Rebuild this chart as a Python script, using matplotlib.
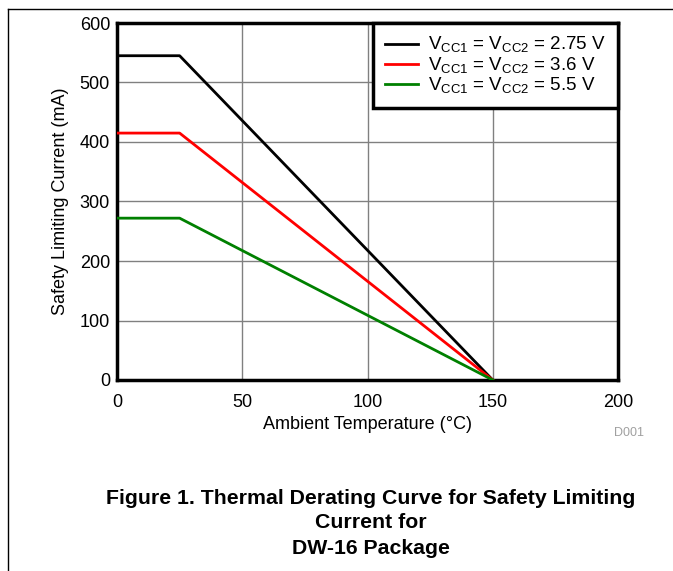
import numpy as np
import matplotlib.pyplot as plt
from matplotlib.lines import Line2D

plt.rcParams['font.family'] = ['Liberation Sans', 'DejaVu Sans']

# ambient temperature breakpoints (degC)
temp = [0, 25, 150]
# safety limiting current (mA) per supply voltage
i_275 = [545, 545, 0]
i_36 = [415, 415, 0]
i_55 = [272, 272, 0]

labels = [r'V$_{\mathregular{CC1}}$ = V$_{\mathregular{CC2}}$ = 2.75 V',
          r'V$_{\mathregular{CC1}}$ = V$_{\mathregular{CC2}}$ = 3.6 V',
          r'V$_{\mathregular{CC1}}$ = V$_{\mathregular{CC2}}$ = 5.5 V']
colors = ['black', 'red', 'green']

W, H = 673, 571
fig = plt.figure(figsize=(W / 100, H / 100), dpi=100)
ax = fig.add_axes([117 / W, (H - 380) / H, 501 / W, 357 / H])

for y, c, lab in zip([i_275, i_36, i_55], colors, labels):
    ax.plot(temp, y, color=c, lw=2, label=lab, zorder=3)

ax.set_xlim(0, 200)
ax.set_ylim(0, 600)
ax.set_xticks([0, 50, 100, 150, 200])
ax.set_yticks([0, 100, 200, 300, 400, 500, 600])
ax.tick_params(length=0, labelsize=13)
ax.tick_params(axis='x', pad=10)
ax.tick_params(axis='y', pad=5)
ax.grid(True, color='#808080', lw=1)
ax.set_axisbelow(True)
for s in ax.spines.values():
    s.set_linewidth(2.5)

ax.set_xlabel('Ambient Temperature (°C)', fontsize=13, labelpad=4)
ax.set_ylabel('Safety Limiting Current (mA)', fontsize=13, labelpad=8)

leg = ax.legend(loc='upper right', fontsize=13.5, frameon=True, fancybox=False,
                borderaxespad=0, handlelength=1.75, labelspacing=0.0,
                handletextpad=0.55, borderpad=0.65)
leg.get_frame().set_edgecolor('black')
leg.get_frame().set_linewidth(2.5)
leg.get_frame().set_alpha(1)

fig.text(644 / W, 1 - 433 / H, 'D001', color='#a0a0a0', fontsize=9, ha='right', va='center')

caption = 'Figure 1. Thermal Derating Curve for Safety Limiting\nCurrent for\nDW-16 Package'
fig.text(371 / W, 1 - 523 / H, caption, ha='center', va='center', fontsize=15.3,
         fontweight='bold', linespacing=1.4)

# page frame
fig.add_artist(Line2D([8 / W, 1], [1 - 9 / H, 1 - 9 / H], color='black', lw=1))
fig.add_artist(Line2D([8 / W, 8 / W], [0, 1 - 9 / H], color='black', lw=1))

fig.savefig('out.png', dpi=100)
